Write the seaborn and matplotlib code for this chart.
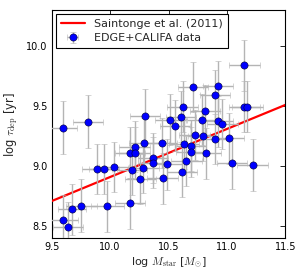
import numpy as np
import pandas as pd
import matplotlib
matplotlib.use("Agg")
import matplotlib.pyplot as plt
import seaborn as sns

# EDGE+CALIFA data
log_mstar = [9.60, 9.81, 9.594, 9.64, 9.677, 9.754, 9.89, 9.95, 9.976, 10.036,
             10.17, 10.17, 10.188, 10.21, 10.21, 10.26, 10.285, 10.293, 10.30, 10.367,
             10.367, 10.44, 10.45, 10.487, 10.516, 10.558, 10.607, 10.62, 10.616, 10.633,
             10.653, 10.693, 10.693, 10.707, 10.724, 10.79, 10.795, 10.815, 10.818, 10.898,
             10.898, 10.921, 10.921, 10.961, 11.02, 11.044, 11.149, 11.149, 11.175, 11.22]
log_tdep = [9.32, 9.37, 8.553, 8.49, 8.64, 8.67, 8.976, 8.976, 8.666, 8.995,
            8.69, 9.114, 8.967, 9.164, 9.114, 8.893, 8.984, 9.195, 9.419, 9.07,
            9.03, 9.195, 8.898, 9.015, 9.388, 9.338, 9.413, 9.496, 8.954, 9.183,
            9.045, 9.172, 9.117, 9.657, 9.261, 9.388, 9.253, 9.463, 9.106, 9.590,
            9.225, 9.668, 9.374, 9.352, 9.231, 9.023, 9.839, 9.496, 9.496, 9.009]
xerr = [0.12, 0.13, 0.13, 0.13, 0.12, 0.13, 0.13, 0.13, 0.14, 0.13,
        0.13, 0.13, 0.13, 0.13, 0.13, 0.13, 0.13, 0.13, 0.13, 0.13,
        0.13, 0.13, 0.13, 0.13, 0.13, 0.13, 0.13, 0.13, 0.13, 0.13,
        0.13, 0.13, 0.13, 0.13, 0.13, 0.13, 0.13, 0.13, 0.13, 0.13,
        0.13, 0.13, 0.13, 0.13, 0.13, 0.13, 0.13, 0.13, 0.13, 0.135]
yerr = [0.22, 0.22, 0.21, 0.21, 0.21, 0.22, 0.21, 0.21, 0.21, 0.21,
        0.21, 0.21, 0.21, 0.21, 0.21, 0.21, 0.21, 0.21, 0.22, 0.21,
        0.21, 0.21, 0.21, 0.21, 0.21, 0.21, 0.21, 0.21, 0.21, 0.21,
        0.21, 0.21, 0.21, 0.21, 0.21, 0.21, 0.21, 0.21, 0.21, 0.21,
        0.21, 0.21, 0.21, 0.21, 0.21, 0.21, 0.21, 0.21, 0.21, 0.215]

# Saintonge et al. (2011) relation endpoints
fit_x = [9.5, 11.5]
fit_y = [8.71, 9.51]

xticks = [9.5, 10.0, 10.5, 11.0, 11.5]
yticks = [8.5, 9.0, 9.5, 10.0]

sns.set_style("white")
plt.rcParams['font.family'] = ['DejaVu Sans']
plt.rcParams['mathtext.fontset'] = 'cm'
plt.rcParams['mathtext.rm'] = 'serif'

fig = plt.figure(figsize=(3.05, 2.77), dpi=100)
ax = fig.add_axes([0.1695, 0.1397, 0.766, 0.8242])

df_fit = pd.DataFrame({"x": fit_x, "y": fit_y})
sns.lineplot(data=df_fit, x="x", y="y", color="red", lw=1.6, ax=ax,
             label="Saintonge et al. (2011)", zorder=3)

ax.errorbar(log_mstar, log_tdep, xerr=xerr, yerr=yerr, fmt='o',
            ms=5.2, mfc='blue', mec='#000033', mew=0.4,
            ecolor='#b4b4b4', elinewidth=1.0, capsize=2, capthick=1.0,
            label="EDGE+CALIFA data", zorder=4)

ax.set_xlim(9.5, 11.5)
ax.set_ylim(8.4, 10.3)
ax.set_xticks(xticks)
ax.set_yticks(yticks)
ax.set_xticklabels([f"{t:.1f}" for t in xticks])
ax.set_yticklabels([f"{t:.1f}" for t in yticks])
ax.tick_params(direction='in', top=True, right=True, length=3.5, width=0.6,
               labelsize=7, pad=3, colors='black')
for s in ax.spines.values():
    s.set_color('black')
    s.set_linewidth(0.8)

ax.set_xlabel(r"log $M_{\rm star}$ [$M_{\odot}$]", fontsize=8, labelpad=2)
ax.set_ylabel(r"log $\tau_{\rm dep}$ [yr]", fontsize=8.3, labelpad=4)

leg = ax.legend(loc='upper left', fontsize=8, frameon=True, fancybox=False,
                borderpad=0.45, labelspacing=0.4, handlelength=2.2,
                borderaxespad=0.35)
leg.get_frame().set_edgecolor('black')
leg.get_frame().set_linewidth(0.8)
leg.get_frame().set_alpha(1)

fig.savefig("out.png", dpi=100)
